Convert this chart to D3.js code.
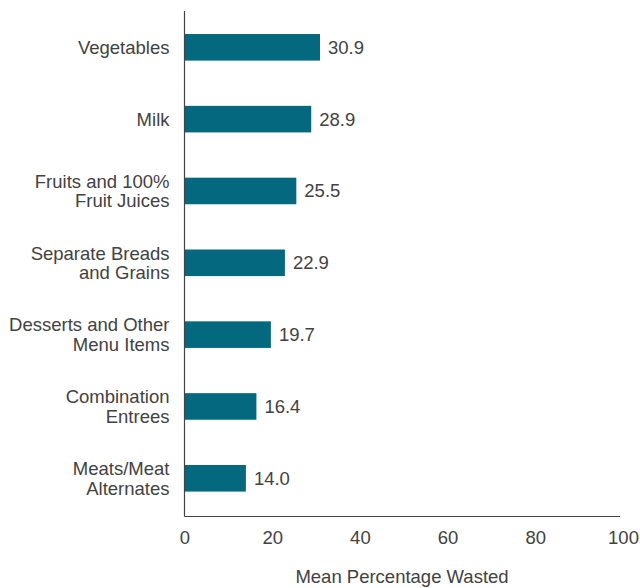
<!DOCTYPE html>
<html>
<head>
<meta charset="utf-8">
<script src="https://cdn.jsdelivr.net/npm/d3@7"></script>
<style>
  body { margin: 0; background: #fff; }
  text { font-family: "Liberation Sans", Arial, sans-serif; fill: #424242; }
</style>
</head>
<body>
<div class="main"></div>
<script>
// chart data
var categories = [
  ["Vegetables"],
  ["Milk"],
  ["Fruits and 100%", "Fruit Juices"],
  ["Separate Breads", "and Grains"],
  ["Desserts and Other", "Menu Items"],
  ["Combination", "Entrees"],
  ["Meats/Meat", "Alternates"]
];
var values = [30.9, 28.9, 25.5, 22.9, 19.7, 16.4, 14.0];
var xTicks = [0, 20, 40, 60, 80, 100];
var xTitle = "Mean Percentage Wasted";

var width = 640, height = 588;
var axisLeft = 184.5, axisBottom = 516.5;
var fontSize = "18.5px";

var svg = d3.select(".main").append("svg")
  .attr("width", width)
  .attr("height", height);

var xScale = d3.scaleLinear().domain([0, 100]).range([axisLeft, 623]);
var yScale = d3.scaleBand()
  .domain(d3.range(values.length))
  .range([11.4, 514.2])
  .paddingInner(0.63)
  .paddingOuter(0.315);

//bars
svg.append("g").attr("class", "bars")
  .selectAll("rect")
  .data(values)
  .enter()
  .append("rect")
  .attr("x", xScale(0))
  .attr("y", function(d, i) { return yScale(i) })
  .attr("width", function(d) { return xScale(d) - xScale(0) })
  .attr("height", yScale.bandwidth())
  .style("fill", "#04687e");

//value labels
svg.append("g").attr("class", "values")
  .selectAll("text")
  .data(values)
  .enter()
  .append("text")
  .attr("x", function(d) { return xScale(d) + 8 })
  .attr("y", function(d, i) { return yScale(i) + yScale.bandwidth() / 2 })
  .attr("dy", "0.35em")
  .style("font-size", fontSize)
  .text(function(d) { return d.toFixed(1) });

//category labels
var cat = svg.append("g").attr("class", "cats")
  .selectAll("text")
  .data(categories)
  .enter()
  .append("text")
  .attr("text-anchor", "end")
  .style("font-size", fontSize)
  .attr("transform", function(d, i) {
    return "translate(169.5," + (yScale(i) + yScale.bandwidth() / 2) + ")";
  });
cat.selectAll("tspan")
  .data(function(d) { return d })
  .enter()
  .append("tspan")
  .attr("x", 0)
  .attr("y", function(d, j, nodes) { return (j - (nodes.length - 1) / 2) * 19.5 })
  .attr("dy", "0.35em")
  .text(function(d) { return d });

//x axis
var xAxis = d3.axisBottom(xScale).tickValues(xTicks).tickSize(0).tickPadding(14);
var gx = svg.append("g")
  .attr("class", "x-axis")
  .attr("transform", "translate(0," + axisBottom + ")")
  .call(xAxis);
gx.select(".domain").remove();
gx.selectAll("text")
  .style("font-size", fontSize)
  .style("font-family", "Liberation Sans, Arial, sans-serif")
  .attr("fill", "#424242");

//axis lines
svg.append("line")
  .attr("x1", axisLeft).attr("x2", 620)
  .attr("y1", axisBottom).attr("y2", axisBottom)
  .style("stroke", "#444").style("stroke-width", 1.2);
svg.append("line")
  .attr("x1", axisLeft).attr("x2", axisLeft)
  .attr("y1", 11).attr("y2", axisBottom)
  .style("stroke", "#444").style("stroke-width", 1.2);

//x axis title
svg.append("text")
  .attr("x", 402)
  .attr("y", 577)
  .attr("dy", "0.35em")
  .attr("text-anchor", "middle")
  .style("font-size", fontSize)
  .text(xTitle);
</script>
</body>
</html>
